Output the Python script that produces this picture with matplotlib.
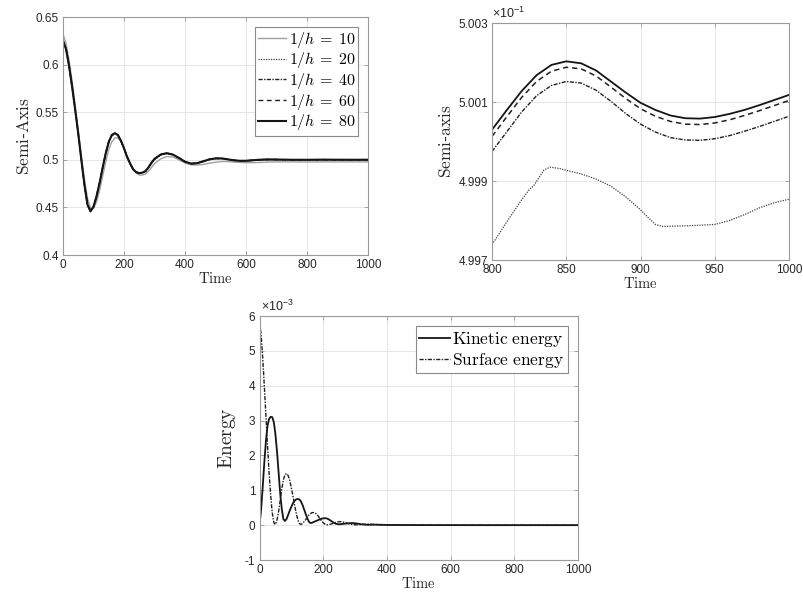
import numpy as np
import matplotlib
matplotlib.use("Agg")
import matplotlib.pyplot as plt

plt.rcParams['font.family'] = ['Liberation Sans', 'DejaVu Sans']
plt.rcParams['mathtext.fontset'] = 'cm'
plt.rcParams['axes.unicode_minus'] = False

# ---- top-left: semi-axis over full time range ----
T_full = np.r_[np.arange(0, 301, 10), np.arange(320, 701, 20), np.arange(750, 1001, 50)]

SA_10 = [0.632, 0.622, 0.604, 0.582, 0.557, 0.531, 0.505, 0.480, 0.460, 0.449,
         0.449, 0.456, 0.468, 0.483, 0.498, 0.511, 0.519, 0.523, 0.523, 0.519,
         0.512, 0.504, 0.496, 0.490, 0.486, 0.484, 0.484, 0.485, 0.488, 0.492,
         0.496,
         0.5010, 0.5035, 0.5030, 0.5000, 0.4965, 0.4948, 0.4945, 0.4952, 0.4965, 0.4975,
         0.4982, 0.4982, 0.4977, 0.4972, 0.4970, 0.4970, 0.4972, 0.4975, 0.4977, 0.4978,
         0.4978, 0.4977, 0.4978, 0.4978, 0.4978, 0.4978]
SA_20 = [0.626, 0.617, 0.599, 0.577, 0.553, 0.528, 0.501, 0.475, 0.454, 0.4465,
         0.4505, 0.461, 0.475, 0.491, 0.506, 0.518, 0.525, 0.527, 0.526, 0.520,
         0.512, 0.503, 0.496, 0.490, 0.487, 0.486, 0.486, 0.488, 0.491, 0.496,
         0.500,
         0.5050, 0.5065, 0.5055, 0.5020, 0.4980, 0.4958, 0.4962, 0.4980, 0.5000, 0.5010,
         0.5012, 0.5003, 0.4994, 0.4989, 0.4988, 0.4992, 0.4996, 0.4999, 0.5000, 0.4999,
         0.49985, 0.49974, 0.49993, 0.49983, 0.49979, 0.49985]
SA_40 = [0.625, 0.616, 0.598, 0.576, 0.552, 0.527, 0.500, 0.474, 0.453, 0.4462,
         0.4510, 0.462, 0.476, 0.492, 0.507, 0.519, 0.526, 0.528, 0.526, 0.520,
         0.512, 0.503, 0.496, 0.490, 0.487, 0.486, 0.4865, 0.488, 0.492, 0.497,
         0.501,
         0.5055, 0.5068, 0.5053, 0.5018, 0.4980, 0.4960, 0.4964, 0.4984, 0.5004, 0.5014,
         0.5014, 0.5004, 0.4994, 0.4989, 0.4990, 0.4995, 0.4999, 0.5002, 0.5003, 0.5002,
         0.49998, 0.499975, 0.500152, 0.50005, 0.500005, 0.500065]
SA_60 = [0.625, 0.616, 0.598, 0.576, 0.552, 0.527, 0.500, 0.474, 0.453, 0.4460,
         0.4510, 0.462, 0.476, 0.492, 0.507, 0.519, 0.526, 0.528, 0.526, 0.520,
         0.512, 0.503, 0.496, 0.490, 0.487, 0.486, 0.4865, 0.488, 0.492, 0.497,
         0.501,
         0.5055, 0.5070, 0.5055, 0.5020, 0.4980, 0.4960, 0.4965, 0.4985, 0.5005, 0.5015,
         0.5015, 0.5005, 0.4995, 0.4990, 0.4990, 0.4995, 0.5000, 0.5003, 0.5004, 0.5003,
         0.50003, 0.500013, 0.500188, 0.50008, 0.500045, 0.500106]
SA_80 = [0.625, 0.616, 0.598, 0.576, 0.552, 0.527, 0.500, 0.474, 0.453, 0.4458,
         0.4508, 0.462, 0.476, 0.492, 0.507, 0.519, 0.526, 0.528, 0.526, 0.520,
         0.512, 0.503, 0.496, 0.490, 0.487, 0.486, 0.4865, 0.488, 0.492, 0.497,
         0.501,
         0.5055, 0.5070, 0.5055, 0.5020, 0.4980, 0.4960, 0.4965, 0.4985, 0.5005, 0.5015,
         0.5015, 0.5005, 0.4995, 0.4990, 0.4990, 0.4995, 0.5000, 0.5003, 0.5004, 0.5003,
         0.50005, 0.50003, 0.50020, 0.500105, 0.50006, 0.500118]

# ---- top-right: zoom on 800..1000 (values in units of 1e-1) ----
T_zoom = np.arange(800, 1001, 10)
Z_80 = [5.00030, 5.00080, 5.00128, 5.00168, 5.00194, 5.00203, 5.00198, 5.00180, 5.00152, 5.00124,
        5.00098, 5.00080, 5.00066, 5.00059, 5.00058, 5.00062, 5.00070, 5.00080, 5.00092, 5.00105,
        5.00118]
Z_60 = [5.00013, 5.00063, 5.00112, 5.00152, 5.00178, 5.00188, 5.00184, 5.00166, 5.00138, 5.00109,
        5.00083, 5.00064, 5.00051, 5.00044, 5.00043, 5.00047, 5.00055, 5.00066, 5.00078, 5.00091,
        5.00104]
Z_40 = [4.99975, 5.00025, 5.00075, 5.00116, 5.00142, 5.00152, 5.00148, 5.00130, 5.00102, 5.00071,
        5.00044, 5.00024, 5.00010, 5.00004, 5.00003, 5.00007, 5.00015, 5.00026, 5.00038, 5.00051,
        5.00064]
T_dot = [800, 810, 820, 825, 828, 831, 835, 839, 845, 850, 860, 870, 880, 890, 900, 905,
         910, 915, 925, 940, 950, 960, 970, 980, 990, 1000]
Z_20 = [4.99739, 4.99797, 4.99853, 4.99878, 4.99888, 4.99905, 4.99928, 4.99935, 4.99932, 4.99927,
        4.99918, 4.99905, 4.99887, 4.99860, 4.99827, 4.99808, 4.99790, 4.99785, 4.99786, 4.99788,
        4.99790, 4.99800, 4.99815, 4.99832, 4.99845, 4.99854]

# ---- bottom: energies (units of 1e-3) ----
T_en = np.r_[np.arange(0, 261, 5), np.arange(270, 361, 10), [380, 400, 450, 500, 600, 700, 800, 1000]]
Kinetic = [0.0, 0.45, 1.1, 1.8, 2.4, 2.85, 3.05, 3.11, 3.1, 2.95,
           2.6, 2.1, 1.5, 0.9, 0.45, 0.17, 0.12, 0.18, 0.3, 0.42,
           0.53, 0.63, 0.7, 0.74, 0.75, 0.74, 0.68, 0.58, 0.45, 0.32,
           0.2, 0.1, 0.06, 0.07, 0.09, 0.11, 0.13, 0.15, 0.17, 0.185,
           0.195, 0.2, 0.195, 0.18, 0.15, 0.12, 0.09, 0.06, 0.04, 0.03,
           0.025, 0.03, 0.035,
           0.045, 0.055, 0.06, 0.055, 0.04, 0.025, 0.015, 0.01, 0.012, 0.015,
           0.012, 0.006, 0.004, 0.002, 0.001, 0.0, 0.0, 0.0]
Surface = [5.85, 5.45, 4.8, 4.0, 3.15, 2.3, 1.5, 0.85, 0.35, 0.07,
           0.02, 0.15, 0.4, 0.72, 1.05, 1.3, 1.45, 1.48, 1.42, 1.28,
           1.07, 0.83, 0.58, 0.35, 0.16, 0.05, 0.02, 0.05, 0.1, 0.16,
           0.23, 0.29, 0.33, 0.36, 0.36, 0.35, 0.31, 0.25, 0.18, 0.12,
           0.07, 0.03, 0.01, 0.01, 0.02, 0.035, 0.05, 0.065, 0.08, 0.09,
           0.1, 0.1, 0.095,
           0.07, 0.04, 0.02, 0.01, 0.012, 0.02, 0.028, 0.03, 0.028, 0.02,
           0.01, 0.005, 0.003, 0.002, 0.001, 0.0, 0.0, 0.0]

TXT = '#262626'
GRID = '#e6e6e6'
SPINE = '#9a9a9a'

def style(ax):
    ax.grid(True, color=GRID, lw=0.7)
    ax.set_axisbelow(True)
    for s in ax.spines.values():
        s.set_color(SPINE)
        s.set_linewidth(0.8)
    ax.tick_params(direction='in', length=3, width=0.6, color=SPINE,
                   labelcolor=TXT, labelsize=8.5, top=True, right=True, pad=3)

def legend(ax, fs, spacing):
    lg = ax.legend(loc='upper right', fontsize=fs, handlelength=1.75, handletextpad=0.15,
                   labelspacing=spacing, borderpad=0.2, borderaxespad=0.6, fancybox=False,
                   framealpha=1)
    lg.get_frame().set_edgecolor('#8a8a8a')
    lg.get_frame().set_linewidth(0.8)

fig = plt.figure(figsize=(8.04, 5.95), dpi=100)

# top-left
ax1 = fig.add_axes([0.0784, 0.5714, 0.3794, 0.4])
ax1.plot(T_full, SA_10, color='#a0a0a0', lw=1.0, label=r'$1/h \, = \; 10$')
ax1.plot(T_full, SA_20, color='#404040', lw=0.9, ls=(0, (1, 1)), label=r'$1/h \, = \; 20$')
ax1.plot(T_full, SA_40, color='#202020', lw=1.0, ls=(0, (3, 1, 1, 1)), label=r'$1/h \, = \; 40$')
ax1.plot(T_full, SA_60, color='#202020', lw=1.0, ls=(0, (3.5, 2.5)), label=r'$1/h \, = \; 60$')
ax1.plot(T_full, SA_80, color='#151515', lw=1.5, label=r'$1/h \, = \; 80$')
ax1.set_xlim(0, 1000)
ax1.set_ylim(0.4, 0.65)
ax1.set_xticks([0, 200, 400, 600, 800, 1000])
ax1.set_yticks([0.4, 0.45, 0.5, 0.55, 0.6, 0.65])
ax1.set_yticklabels(['0.4', '0.45', '0.5', '0.55', '0.6', '0.65'])
ax1.set_xlabel(r'$\mathrm{Time}$', fontsize=10.5, color=TXT, labelpad=0)
ax1.set_ylabel(r'$\mathrm{Semi}$-$\mathrm{Axis}$', fontsize=12.5, color=TXT, labelpad=3)
style(ax1)
legend(ax1, 11.5, 0.04)

# top-right
ax2 = fig.add_axes([0.612, 0.563, 0.3694, 0.3983])
ax2.plot(T_zoom, Z_80, color='#151515', lw=1.3)
ax2.plot(T_zoom, Z_60, color='#202020', lw=1.1, ls=(0, (3.5, 2.5)))
ax2.plot(T_zoom, Z_40, color='#202020', lw=1.0, ls=(0, (3, 1, 1, 1)))
ax2.plot(T_dot, Z_20, color='#404040', lw=0.9, ls=(0, (1, 1)))
ax2.set_xlim(800, 1000)
ax2.set_ylim(4.997, 5.003)
ax2.set_xticks([800, 850, 900, 950, 1000])
ax2.set_yticks([4.997, 4.999, 5.001, 5.003])
ax2.set_yticklabels(['4.997', '4.999', '5.001', '5.003'])
ax2.set_xlabel(r'$\mathrm{Time}$', fontsize=10.5, color=TXT, labelpad=0)
ax2.set_ylabel(r'$\mathrm{Semi}$-$\mathrm{axis}$', fontsize=12.5, color=TXT, labelpad=3)
style(ax2)
ax2.text(0.0, 1.008, r'$\mathregular{\times10^{-1}}$', transform=ax2.transAxes, fontsize=9,
         color=TXT, ha='left', va='bottom')

# bottom
ax3 = fig.add_axes([0.3228, 0.0588, 0.3961, 0.41])
ax3.plot(T_en, Kinetic, color='#151515', lw=1.3, label=r'$\mathrm{Kinetic\ energy}$')
ax3.plot(T_en, Surface, color='#202020', lw=1.0, ls=(0, (3, 1, 1, 1)),
         label=r'$\mathrm{Surface\ energy}$')
ax3.set_xlim(0, 1000)
ax3.set_ylim(-1, 6)
ax3.set_xticks([0, 200, 400, 600, 800, 1000])
ax3.set_yticks([-1, 0, 1, 2, 3, 4, 5, 6])
ax3.set_xlabel(r'$\mathrm{Time}$', fontsize=10.5, color=TXT, labelpad=0)
ax3.set_ylabel(r'$\mathrm{Energy}$', fontsize=14, color=TXT, labelpad=5)
style(ax3)
ax3.text(0.005, 1.008, r'$\mathregular{\times10^{-3}}$', transform=ax3.transAxes, fontsize=9,
         color=TXT, ha='left', va='bottom')
legend(ax3, 12.5, 0.1)

fig.savefig('out.png', dpi=100)
